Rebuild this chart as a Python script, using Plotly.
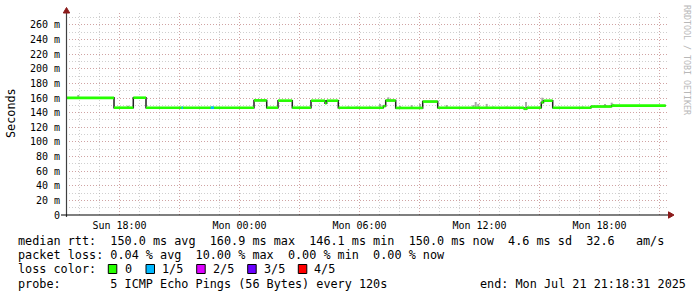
import plotly.graph_objects as go

# ---------------- data ----------------
# time in hours since Sun 2025-07-20 00:00
median_start_h = [15.309, 17.725, 18.69, 19.325, 24.725, 25.36, 25.925, 26.64, 27.575,
                  28.275, 28.36, 28.94, 31.19, 31.31, 31.81, 33.16, 33.91, 38.225,
                  38.375, 39.09, 39.2, 39.66, 41.575, 42.61]
median_ms = [160.3, 146.8, 160.5, 146.8, 156.8, 146.8, 156.5, 146.8, 156.4,
             153.0, 156.4, 146.8, 149.0, 156.6, 146.5, 155.2, 146.8, 145.3,
             146.8, 154.0, 156.4, 146.8, 148.4, 149.6]
end_h = 45.309

loss_start_h = [21.10, 22.56]
loss_end_h = [21.17, 22.72]

smoke_h = [15.94, 18.425, 29.44, 29.86, 30.525, 31.025, 31.44, 32.025, 32.61, 33.025,
           34.36, 35.69, 35.81, 35.94, 36.36, 36.69, 37.36, 38.325, 39.14, 41.16,
           42.275, 42.61, 42.69]
smoke_top = [164.2, 149.5, 148.5, 148.5, 148.5, 152.0, 161.0, 149.5, 150.5, 152.0,
             150.5, 150.5, 154.6, 152.0, 152.0, 148.5, 148.5, 154.6, 160.5, 148.5,
             152.0, 153.7, 152.0]

x_tick_h = [18, 21, 24, 27, 30, 33, 36, 39, 42, 45]
x_tick_text = ["Sun 18:00", "", "Mon 00:00", "", "Mon 06:00", "", "Mon 12:00", "", "Mon 18:00", ""]
y_tick_ms = list(range(0, 261, 20))
y_tick_text = ["0"] + [f"{v} m" for v in y_tick_ms[1:]]

legend_rows = [
    "median rtt:  150.0 ms avg  160.9 ms max  146.1 ms min  150.0 ms now  4.6 ms sd  32.6   am/s",
    "packet loss: 0.04 % avg  10.00 % max  0.00 % min  0.00 % now",
]
loss_labels = ["0", "1/5", "2/5", "3/5", "4/5"]
loss_colors = ["#26ff00", "#00b8ff", "#dd00ff", "#6a00ff", "#ff0000"]
probe_text = "probe:       5 ICMP Echo Pings (56 Bytes) every 120s"
end_text = "end: Mon Jul 21 21:18:31 2025"

# ---------------- geometry ----------------
W, H = 697, 297
L, R, T, B = 66, 29, 13, 82
PW, PH = W - L - R, H - T - B


def xp(px):
    return (px - L) / PW


def yp(py):
    return (H - B - py) / PH


MONO = "DejaVu Sans Mono"

fig = go.Figure()


def median_at(h):
    v = median_ms[0]
    for s, m in zip(median_start_h, median_ms):
        if s <= h:
            v = m
    return v


# smoke
sx, sy = [], []
for h, top in zip(smoke_h, smoke_top):
    sx += [h, h, None]
    sy += [median_at(h), top, None]
fig.add_trace(go.Scatter(x=sx, y=sy, mode="lines", line=dict(color="#a8a8a8", width=2),
                         hoverinfo="skip", showlegend=False))

# black step line
step_x = median_start_h + [end_h]
step_y = median_ms + [median_ms[-1]]
fig.add_trace(go.Scatter(x=step_x, y=step_y, mode="lines", line=dict(color="#202020", width=1.5, shape="hv"),
                         hoverinfo="skip", showlegend=False))

# green segments
gx, gy = [], []
ends = median_start_h[1:] + [end_h]
for s, e, m in zip(median_start_h, ends, median_ms):
    gx += [s, e, None]
    gy += [m, m, None]
fig.add_trace(go.Scatter(x=gx, y=gy, mode="lines", line=dict(color=loss_colors[0], width=2.6),
                         hoverinfo="skip", showlegend=False))

# loss segments
lx, ly = [], []
for s, e in zip(loss_start_h, loss_end_h):
    m = median_at(s)
    lx += [s, e, None]
    ly += [m, m, None]
fig.add_trace(go.Scatter(x=lx, y=ly, mode="lines", line=dict(color=loss_colors[1], width=2.6),
                         hoverinfo="skip", showlegend=False))

major_grid = "rgba(210,120,120,0.5)"
minor_grid = "rgba(160,160,160,0.5)"

fig.update_xaxes(range=[15.325, 45.425], tickvals=x_tick_h, ticktext=x_tick_text,
                 showgrid=True, gridcolor=major_grid, griddash="1px,2px", gridwidth=1,
                 minor=dict(dtick=1, tick0=0, showgrid=True, gridcolor=minor_grid, griddash="1px,2px"),
                 zeroline=False, showline=False, ticks="", ticklabelstandoff=3,
                 tickfont=dict(family=MONO, size=10, color="#000"))
fig.update_yaxes(range=[0, 276.4], tickvals=y_tick_ms, ticktext=y_tick_text,
                 showgrid=True, gridcolor=major_grid, griddash="1px,2px", gridwidth=1,
                 minor=dict(dtick=10, tick0=0, showgrid=True, gridcolor=minor_grid, griddash="1px,2px"),
                 zeroline=False, showline=False, ticks="", ticklabelstandoff=5,
                 tickfont=dict(family=MONO, size=10, color="#000"))

shapes = []
# axes
shapes.append(dict(type="line", xref="paper", yref="paper", x0=xp(66.5), x1=xp(66.5), y0=yp(217), y1=yp(12),
                   line=dict(color="#404040", width=1.2)))
shapes.append(dict(type="line", xref="paper", yref="paper", x0=xp(61), x1=xp(669), y0=yp(215), y1=yp(215),
                   line=dict(color="#000000", width=1.2)))
# arrowheads
shapes.append(dict(type="path", xref="paper", yref="paper",
                   path=f"M {xp(63.3)} {yp(13)} L {xp(66.5)} {yp(7.5)} L {xp(69.7)} {yp(13)} Z",
                   fillcolor="#8b1a1a", line=dict(color="#8b1a1a", width=1)))
shapes.append(dict(type="path", xref="paper", yref="paper",
                   path=f"M {xp(668.5)} {yp(211.8)} L {xp(674)} {yp(215)} L {xp(668.5)} {yp(218.2)} Z",
                   fillcolor="#8b1a1a", line=dict(color="#8b1a1a", width=1)))

annotations = []
NB = "\u00a0"
row_y = [241, 255.3, 269.3, 283.7]
for txt, ry in zip(legend_rows, row_y[:2]):
    annotations.append(dict(xref="paper", yref="paper", x=xp(16), y=yp(ry), xanchor="left", yanchor="middle",
                            text=txt.replace(" ", NB), showarrow=False,
                            font=dict(family=MONO, size=11.8, color="#000")))
annotations.append(dict(xref="paper", yref="paper", x=xp(16), y=yp(row_y[2]), xanchor="left", yanchor="middle",
                        text="loss color:", showarrow=False, font=dict(family=MONO, size=11.8, color="#000")))
box_x = [108.3, 146, 196.7, 247.7, 298.3]
lab_x = [123, 160, 211, 261.7, 312.3]
for bx, lxp, lab, col in zip(box_x, lab_x, loss_labels, loss_colors):
    shapes.append(dict(type="rect", xref="paper", yref="paper", x0=xp(bx), x1=xp(bx + 8.5),
                       y0=yp(273.5), y1=yp(264.5), fillcolor=col, line=dict(color="#000", width=1)))
    annotations.append(dict(xref="paper", yref="paper", x=xp(lxp), y=yp(row_y[2]), xanchor="left", yanchor="middle",
                            text=lab, showarrow=False, font=dict(family=MONO, size=11.8, color="#000")))
annotations.append(dict(xref="paper", yref="paper", x=xp(16), y=yp(row_y[3]), xanchor="left", yanchor="middle",
                        text=probe_text.replace(" ", NB), showarrow=False,
                        font=dict(family=MONO, size=11.8, color="#000")))
annotations.append(dict(xref="paper", yref="paper", x=xp(478.3), y=yp(row_y[3]), xanchor="left", yanchor="middle",
                        text=end_text.replace(" ", NB), showarrow=False,
                        font=dict(family=MONO, size=11.8, color="#000")))
# y title
annotations.append(dict(xref="paper", yref="paper", x=xp(11), y=yp(113), xanchor="center", yanchor="middle",
                        text="Seconds", textangle=-90, showarrow=False,
                        font=dict(family=MONO, size=11.8, color="#000")))
# watermark
annotations.append(dict(xref="paper", yref="paper", x=xp(687), y=yp(60), xanchor="center", yanchor="middle",
                        text="RRDTOOL / TOBI OETIKER".replace(" ", NB), textangle=90, showarrow=False,
                        font=dict(family=MONO, size=8.3, color="#b8b8b8")))

fig.update_layout(width=W, height=H, margin=dict(l=L, r=R, t=T, b=B, pad=0),
                  paper_bgcolor="#ffffff", plot_bgcolor="#ffffff",
                  shapes=shapes, annotations=annotations, showlegend=False)

fig.write_html("out.html", config={"displayModeBar": False})
